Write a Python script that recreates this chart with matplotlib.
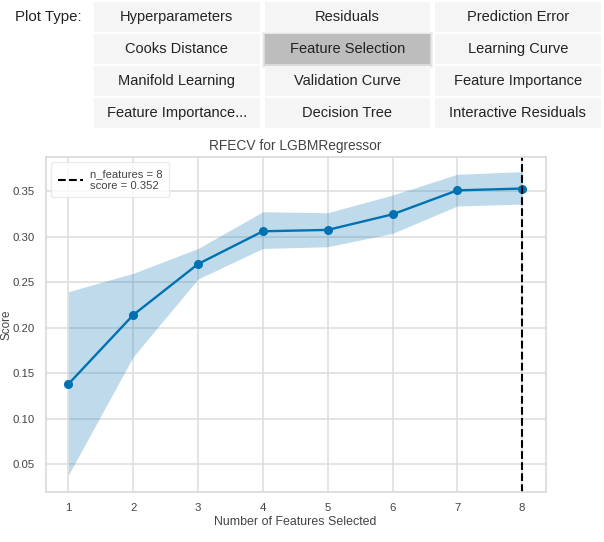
import numpy as np
import matplotlib
matplotlib.use("Agg")
import matplotlib.pyplot as plt
from matplotlib.patches import Rectangle

plt.rcParams['font.family'] = ['Liberation Sans', 'DejaVu Sans']

# widget buttons
buttons = ["Hyperparameters", "Residuals", "Prediction Error",
           "Cooks Distance", "Feature Selection", "Learning Curve",
           "Manifold Learning", "Validation Curve", "Feature Importance",
           "Feature Importance...", "Decision Tree", "Interactive Residuals"]
selected = "Feature Selection"

# RFECV results
n_features = [1, 2, 3, 4, 5, 6, 7, 8]
score_mean = [0.138, 0.214, 0.270, 0.306, 0.3075, 0.3246, 0.351, 0.353]
score_upper = [0.2396, 0.2598, 0.2871, 0.3275, 0.3264, 0.3459, 0.3687, 0.3716]
score_lower = [0.038, 0.168, 0.2535, 0.2871, 0.2890, 0.3037, 0.3338, 0.3360]
best_n = 8
best_score = 0.352

W, H = 604, 542
fig = plt.figure(figsize=(W / 100, H / 100), dpi=100)

# ---- button panel (pixel coordinates) ----
ui = fig.add_axes([0, 0, 1, 1])
ui.set_xlim(0, W)
ui.set_ylim(H, 0)
ui.axis('off')

ui.text(15, 17, "Plot Type:", fontsize=10.8, color='#222222', va='center', ha='left')
col_x = [94, 264.5, 435]
bw, bh = 165.5, 30.5
row_y = [1.5, 33.5, 65.5, 97.5]
for i, lab in enumerate(buttons):
    x0 = col_x[i % 3]
    y0 = row_y[i // 3]
    if lab == selected:
        for k in range(3):
            ui.add_patch(Rectangle((x0 - k - 1, y0 - k), bw + 2 * k + 2, bh + 2 * k + 2,
                                   facecolor='black', alpha=0.05, edgecolor='none'))
        fc = '#bdbdbd'
    else:
        fc = '#f5f5f5'
    ui.add_patch(Rectangle((x0, y0), bw, bh, facecolor=fc, edgecolor='none'))
    ui.text(x0 + bw / 2, y0 + bh / 2 + 0.5, lab, fontsize=10.5, color='#222222',
            ha='center', va='center')

# ---- RFECV plot ----
ax = fig.add_axes([45.7 / W, 1 - 492.3 / H, (545.5 - 45.7) / W, (492.3 - 156.7) / H])
blue = '#0072B2'
ax.fill_between(n_features, score_lower, score_upper, color=blue, alpha=0.25, linewidth=0)
ax.plot(n_features, score_mean, color=blue, marker='o', markersize=5.5, linewidth=1.7)
ax.axvline(best_n, color='black', linestyle='--', linewidth=1.5,
           label="n_features = {}\nscore = {:0.3f}".format(best_n, best_score))

ax.set_xlim(0.65, 8.36)
ax.set_ylim(0.019, 0.388)
ax.set_xticks(n_features)
ax.set_yticks([0.05, 0.10, 0.15, 0.20, 0.25, 0.30, 0.35])
ax.set_yticklabels(["0.05", "0.10", "0.15", "0.20", "0.25", "0.30", "0.35"])
ax.grid(True, color='#dddddd', linewidth=1.1)
ax.set_axisbelow(True)
for s in ax.spines.values():
    s.set_color('#d9d9d9')
    s.set_linewidth(1.2)
ax.tick_params(length=0, labelsize=8.2, labelcolor='#444444', pad=8)
ax.set_title("RFECV for LGBMRegressor", fontsize=9.9, color='#444444', pad=5)
ax.set_xlabel("Number of Features Selected", fontsize=8.9, color='#444444', labelpad=2)
ax.set_ylabel("Score", fontsize=8.4, color='#444444')
ax.yaxis.set_label_coords(-0.066, 0.5)
leg = ax.legend(loc='upper left', fontsize=8.1, frameon=True, handlelength=2.2,
                borderpad=0.6, handletextpad=0.6, borderaxespad=0.5)
leg.get_frame().set_edgecolor('#e6e6e6')
leg.get_frame().set_facecolor('white')
leg.get_frame().set_alpha(0.8)
for t in leg.get_texts():
    t.set_color('#444444')

fig.savefig("out.png", dpi=100)
